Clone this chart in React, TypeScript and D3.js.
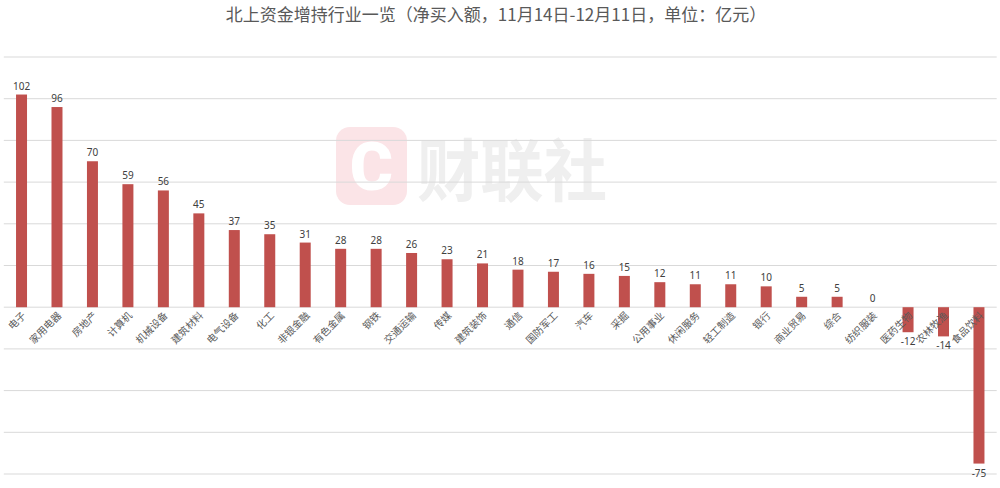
import React from "react";
import * as d3 from "d3";

const categories = ["电子","家用电器","房地产","计算机","机械设备","建筑材料","电气设备","化工","非银金融","有色金属","钢铁","交通运输","传媒","建筑装饰","通信","国防军工","汽车","采掘","公用事业","休闲服务","轻工制造","银行","商业贸易","综合","纺织服装","医药生物","农林牧渔","食品饮料"];
const values = [102,96,70,59,56,45,37,35,31,28,28,26,23,21,18,17,16,15,12,11,11,10,5,5,0,-12,-14,-75];
const yTicks = [-80,-60,-40,-20,0,20,40,60,80,100,120];
const title = "北上资金增持行业一览（净买入额，11月14日-12月11日，单位：亿元）";

const W = 1000, H = 488;
const plotLeft = 3.8, plotRight = 996.7, plotTop = 57, plotBottom = 474;

export default function App() {
  const x = d3.scaleBand<string>().domain(categories).range([plotLeft, plotRight]).paddingInner(0.69).paddingOuter(0.345);
  const y = d3.scaleLinear().domain([-80, 120]).range([plotBottom, plotTop]);
  const bw = x.bandwidth();
  const y0 = y(0);
  return (
    <svg width={W} height={H} style={{ position: "absolute", left: 0, top: 0, background: "#fff" }}>
      <rect x={0} y={0} width={W} height={H} fill="#fff" />
      {/* watermark */}
      <g>
        <rect x={336} y={127} width={71} height={78} rx={14} fill="#fbe4e7" />
        <text x={371.5} y={190} textAnchor="middle" fontFamily="Roboto, 'DejaVu Sans', sans-serif" fontWeight={900} fontSize={66} fill="#fff">C</text>
        <text x={512} y={196} textAnchor="middle" fontFamily="'Noto Sans CJK SC', sans-serif" fontWeight={700} fontSize={68} fill="#efefef" textLength={190} lengthAdjust="spacingAndGlyphs">财联社</text>
      </g>
      {yTicks.map((t) => (
        <line key={t} x1={plotLeft} x2={plotRight} y1={y(t)} y2={y(t)} stroke="#d9d9d9" strokeWidth={1} />
      ))}
      <text x={496} y={21} textAnchor="middle" fontFamily="'Noto Sans CJK SC', sans-serif" fontSize={17} fill="#595959">{title}</text>
      {categories.map((c, i) => {
        const v = values[i];
        const bx = x(c)!;
        const cx = bx + bw / 2;
        const top = Math.min(y(v), y0);
        const h = Math.abs(y(v) - y0);
        return (
          <g key={c}>
            {v !== 0 && <rect x={bx} y={top} width={bw} height={h} fill="#c0504d" />}
            <text x={cx} y={v >= 0 ? y(v) - 5 : y(v) + 13} textAnchor="middle" fontFamily="'Noto Sans', sans-serif" fontSize={10} fill="#404040">{v}</text>
            <text transform={`translate(${cx + 5},${y0 + 9}) rotate(-45)`} textAnchor="end" fontFamily="'Noto Sans CJK SC', sans-serif" fontSize={10} fill="#595959">{c}</text>
          </g>
        );
      })}
    </svg>
  );
}
